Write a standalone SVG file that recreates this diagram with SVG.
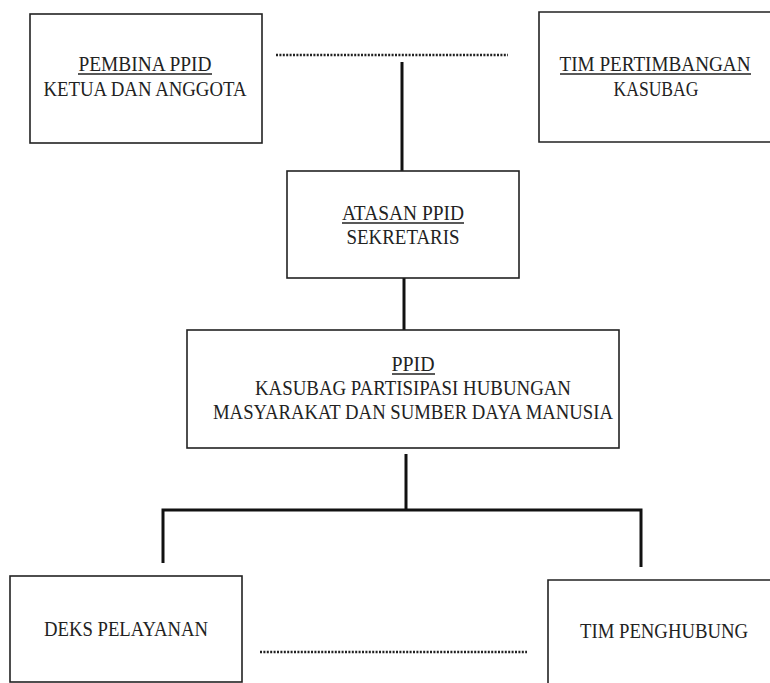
<svg xmlns="http://www.w3.org/2000/svg" width="770" height="683" viewBox="0 0 770 683">
<style>
.box{fill:#fff;stroke:#222;stroke-width:1.6}
.t{font-family:"Liberation Serif","DejaVu Serif",serif;font-size:21px;fill:#222;text-anchor:middle}
.ul{stroke:#222;stroke-width:1.3}
.con{stroke:#111;stroke-width:3;fill:none}
.dot{stroke:#222;stroke-width:2.5;stroke-dasharray:2 1.4;fill:none}
</style>
<rect width="770" height="683" fill="#fff"/>
<g id="connectors">
<line class="dot" x1="276" y1="55" x2="508" y2="55"/>
<line class="con" x1="402" y1="62" x2="402" y2="171"/>
<line class="con" x1="404" y1="274" x2="404" y2="330"/>
<line class="con" x1="406" y1="454" x2="406" y2="510"/>
<polyline class="con" points="163,563 163,510 641,510 641,567"/>
<line class="dot" x1="260" y1="652" x2="527" y2="652"/>
</g>
<g id="pembina">
<rect class="box" x="30" y="14" width="232" height="129"/>
<text class="t" x="145" y="71" textLength="133" lengthAdjust="spacingAndGlyphs">PEMBINA PPID</text>
<line class="ul" x1="78" y1="74" x2="212" y2="74"/>
<text class="t" x="145" y="96" textLength="203" lengthAdjust="spacingAndGlyphs">KETUA DAN ANGGOTA</text>
</g>
<g id="tim-pertimbangan">
<path class="box" d="M770,12 H539 V142 H770"/>
<text class="t" x="655" y="71" textLength="191" lengthAdjust="spacingAndGlyphs">TIM PERTIMBANGAN</text>
<line class="ul" x1="560" y1="74" x2="751" y2="74"/>
<text class="t" x="656" y="96" textLength="85" lengthAdjust="spacingAndGlyphs">KASUBAG</text>
</g>
<g id="atasan">
<rect class="box" x="287" y="171" width="232" height="107"/>
<text class="t" x="403" y="220" textLength="122" lengthAdjust="spacingAndGlyphs">ATASAN PPID</text>
<line class="ul" x1="342" y1="223" x2="464" y2="223"/>
<text class="t" x="403" y="244" textLength="113" lengthAdjust="spacingAndGlyphs">SEKRETARIS</text>
</g>
<g id="ppid">
<rect class="box" x="187" y="330" width="432" height="118"/>
<text class="t" x="413" y="371" textLength="43" lengthAdjust="spacingAndGlyphs">PPID</text>
<line class="ul" x1="392" y1="374" x2="435" y2="374"/>
<text class="t" x="413" y="395" textLength="316" lengthAdjust="spacingAndGlyphs">KASUBAG PARTISIPASI HUBUNGAN</text>
<text class="t" x="413" y="419" textLength="400" lengthAdjust="spacingAndGlyphs">MASYARAKAT DAN SUMBER DAYA MANUSIA</text>
</g>
<g id="deks">
<rect class="box" x="10" y="576" width="232" height="106"/>
<text class="t" x="126" y="636" textLength="164" lengthAdjust="spacingAndGlyphs">DEKS PELAYANAN</text>
</g>
<g id="tim-penghubung">
<path class="box" d="M770,580 H548 V683"/>
<text class="t" x="664" y="638" textLength="168" lengthAdjust="spacingAndGlyphs">TIM PENGHUBUNG</text>
</g>
</svg>
